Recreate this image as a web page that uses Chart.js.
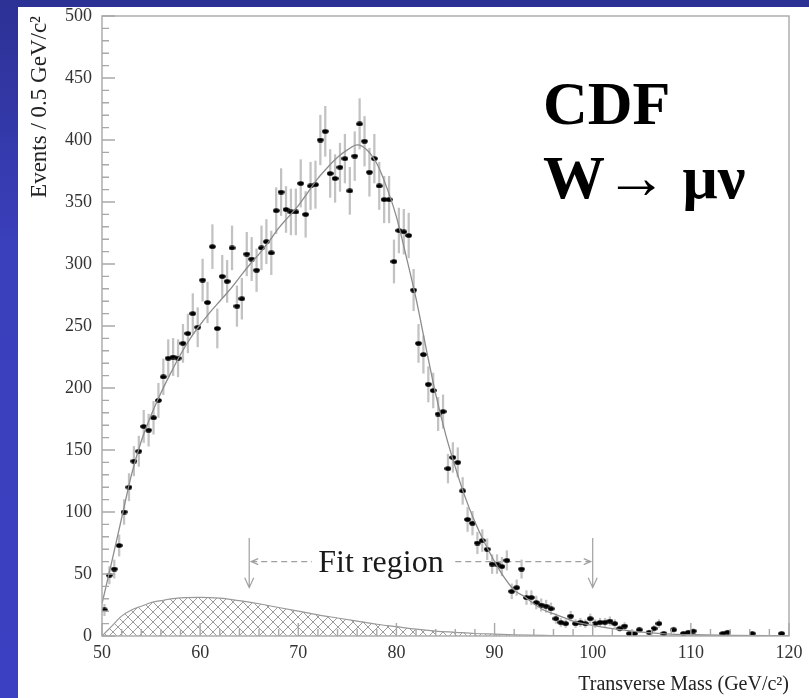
<!DOCTYPE html>
<html>
<head>
<meta charset="utf-8">
<script src="https://cdn.jsdelivr.net/npm/chart.js@4.4.1/dist/chart.umd.min.js"></script>
<style>
  html, body { margin: 0; padding: 0; }
  body {
    width: 809px; height: 698px; overflow: hidden; position: relative;
    background: linear-gradient(180deg, #2c3195 0%, #3a3fbb 35%, #3b40c2 100%);
  }
  #panel { position: absolute; left: 18px; top: 7px; width: 791px; height: 691px; background: #fff; }
</style>
</head>
<body>
<div id="panel"><canvas id="mt-graph"></canvas></div>
<script>
// Histogram: 0.5 GeV bins from 50 to 120 GeV (null = empty bin)
const binStart = 50;
const binWidth = 0.5;
const counts = [
  21, 49, 54, 73, 100, 120, 141, 149, 169, 166,
  176, 190, 209, 224, 225, 224, 236, 244, 260, 249,
  287, 269, 314, 248, 290, 286, 313, 266, 272, 308,
  304, 295, 313, 318, 309, 343, 358, 344, 342, 342,
  365, 340, 363, 364, 400, 407, 373, 369, 378, 385,
  359, 387, 413, 399, 374, 385, 363, 352, 352, 302,
  327, 326, 323, 279, 236, 227, 203, 198, 179, 181,
  135, 144, 140, 117, 94, 91, 75, 77, 70, 58,
  58, 56, 61, 36, 39, 54, 31, 31, 27, 25,
  24, 22, 14, 11, 10, 16, 10, 11, 10, 14,
  10, 11, 11, 12, 10, 6, 8, 2, 2, 5,
  null, 3, 6, 10, 2, null, 5, null, 2, 3,
  4, null, null, null, null, null, 2, 3, null, null,
  null, null, 2, null, null, null, null, null, 2, null
];

// Fit curve
const fitMass = [50, 50.5, 51, 52, 53, 54, 55, 56, 57, 58, 59, 60, 61, 62, 63, 64, 65, 66, 67, 68,
  69, 70, 71, 72, 73, 74, 75, 76, 77, 78, 79, 80, 81, 82, 83, 84, 85, 86, 87, 88,
  89, 90, 91, 92, 93, 94, 95, 96, 97, 98, 99, 100, 102, 104, 106, 108, 110, 114, 120];
const fitEvents = [26, 43, 60, 95, 130, 157, 178, 196, 212, 227, 240, 251, 261, 270, 279, 289, 299, 308, 318, 329,
  338, 347, 358, 369, 378, 386, 392, 396, 392, 381, 362, 338, 306, 272, 233, 195, 163, 136, 112, 92,
  75, 60, 47, 37, 32, 26, 21, 18, 15, 12, 10, 8.5, 6, 4, 2.5, 1.5, 1, 0.5, 0.3];

// Background shape (hatched)
const bkgMass = [50, 51, 52, 53, 54, 55, 56, 57, 58, 60, 62, 64, 66, 68, 70, 72, 74, 76, 78, 80,
  82, 84, 86, 88, 90, 92, 95, 100, 120];
const bkgEvents = [0, 8, 16, 21, 24, 27, 28.5, 30, 30.8, 31.2, 30.5, 28.5, 26, 23, 20, 17, 14.5, 12, 9.5, 7.5,
  5.5, 4, 3, 2, 1.5, 1, 0.5, 0, 0];

const fitRange = [65, 100];
const xTicks = { min: 50, max: 120, step: 10, minor: 2 };
const yTicks = { min: 0, max: 500, step: 50, minor: 10 };

const serif = '"Liberation Serif", "Times New Roman", serif';

const points = [];
const errors = [];
counts.forEach((n, i) => {
  if (n === null) return;
  const m = binStart + binWidth * (i + 0.5);
  const e = Math.sqrt(n); // Poisson error
  points.push({ x: m, y: n });
  errors.push({ x: m, y: [n - e, n + e] });
});

// crosshatch for the background
const hatch = document.createElement('canvas');
hatch.width = 10; hatch.height = 10;
const hctx = hatch.getContext('2d');
hctx.strokeStyle = '#9c9c9c';
hctx.lineWidth = 1;
hctx.beginPath();
hctx.moveTo(0, 0); hctx.lineTo(10, 10);
hctx.moveTo(10, 0); hctx.lineTo(0, 10);
hctx.stroke();

// small flat dot for the data points
const dot = document.createElement('canvas');
dot.width = 7; dot.height = 5;
const dctx = dot.getContext('2d');
dctx.fillStyle = '#000';
dctx.beginPath();
dctx.ellipse(3.5, 2.5, 3.3, 2.3, 0, 0, Math.PI * 2);
dctx.fill();

const ctx = document.getElementById('mt-graph').getContext('2d');

const decorations = {
  id: 'decorations',
  beforeDatasetsDraw(chart) {
    const { ctx, scales: { x, y } } = chart;
    const x1 = x.getPixelForValue(fitRange[0]);
    const x2 = x.getPixelForValue(fitRange[1]);
    const yTop = y.getPixelForValue(79);
    const yBot = y.getPixelForValue(39);
    const yLine = y.getPixelForValue(60);
    ctx.save();
    ctx.strokeStyle = '#a0a0a0';
    ctx.lineWidth = 1.2;
    // down arrows
    [x1, x2].forEach(px => {
      ctx.beginPath();
      ctx.moveTo(px, yTop); ctx.lineTo(px, yBot);
      ctx.moveTo(px - 4.5, yBot - 10); ctx.lineTo(px, yBot); ctx.lineTo(px + 4.5, yBot - 10);
      ctx.stroke();
    });
    // dashed line with open heads, broken around the label
    const gapL = x.getPixelForValue(71.4);
    const gapR = x.getPixelForValue(86);
    ctx.setLineDash([6, 4]);
    ctx.beginPath();
    ctx.moveTo(x1 + 2, yLine); ctx.lineTo(gapL, yLine);
    ctx.moveTo(gapR, yLine); ctx.lineTo(x2 - 2, yLine);
    ctx.stroke();
    ctx.setLineDash([]);
    ctx.beginPath();
    ctx.moveTo(x1 + 9, yLine - 3); ctx.lineTo(x1 + 2, yLine); ctx.lineTo(x1 + 9, yLine + 3);
    ctx.moveTo(x2 - 9, yLine - 3); ctx.lineTo(x2 - 2, yLine); ctx.lineTo(x2 - 9, yLine + 3);
    ctx.stroke();
    ctx.fillStyle = '#1a1a1a';
    ctx.font = '32px ' + serif;
    ctx.textAlign = 'left';
    ctx.textBaseline = 'alphabetic';
    ctx.fillText('Fit region', x.getPixelForValue(72.04), y.getPixelForValue(51.6));
    ctx.restore();
  },
  afterDatasetsDraw(chart) {
    const { ctx, chartArea: a, scales: { x, y } } = chart;
    ctx.save();
    ctx.strokeStyle = '#a8a8a8';
    ctx.lineWidth = 1.4;
    ctx.strokeRect(a.left, a.top, a.right - a.left, a.bottom - a.top);
    ctx.beginPath();
    for (let v = xTicks.min; v <= xTicks.max; v += xTicks.minor) {
      const px = x.getPixelForValue(v);
      const len = v % xTicks.step === 0 ? 13 : 7;
      ctx.moveTo(px, a.bottom); ctx.lineTo(px, a.bottom - len);
    }
    for (let v = yTicks.min; v <= yTicks.max; v += yTicks.minor) {
      const py = y.getPixelForValue(v);
      const len = v % yTicks.step === 0 ? 13 : 7;
      ctx.moveTo(a.left, py); ctx.lineTo(a.left + len, py);
    }
    ctx.stroke();
    // experiment label
    ctx.fillStyle = '#000';
    ctx.font = 'bold 62px ' + serif;
    ctx.textAlign = 'left';
    ctx.textBaseline = 'alphabetic';
    ctx.fillText('CDF', 525, 117);
    ctx.fillText('W\u2192 \u03bc\u03bd', 525, 191);
    ctx.restore();
  }
};

const data = {
  datasets: [
    {
      type: 'line',
      label: 'Fit',
      data: fitMass.map((m, i) => ({ x: m, y: fitEvents[i] })),
      borderColor: '#8c8c8c',
      borderWidth: 1.3,
      pointRadius: 0,
      cubicInterpolationMode: 'monotone',
      fill: false,
      order: 0
    },
    {
      type: 'scatter',
      label: 'Data',
      data: points,
      pointStyle: dot,
      pointRadius: 3,
      order: 1
    },
    {
      type: 'bar',
      label: 'Errors',
      data: errors,
      backgroundColor: '#c2c2c2',
      borderWidth: 0,
      barThickness: 1.6,
      order: 2
    },
    {
      type: 'line',
      label: 'Background',
      data: bkgMass.map((m, i) => ({ x: m, y: bkgEvents[i] })),
      borderColor: '#999',
      borderWidth: 1.2,
      pointRadius: 0,
      cubicInterpolationMode: 'monotone',
      fill: 'origin',
      backgroundColor: ctx.createPattern(hatch, 'repeat'),
      order: 3
    }
  ]
};

const config = {
  type: 'scatter',
  data: data,
  plugins: [decorations],
  options: {
    responsive: true,
    maintainAspectRatio: false,
    animation: false,
    layout: { padding: { top: 9, right: 20, left: 0, bottom: 0 } },
    plugins: { legend: { display: false }, tooltip: { enabled: false } },
    scales: {
      x: {
        type: 'linear',
        min: xTicks.min,
        max: xTicks.max,
        offset: false,
        grid: { display: false, drawTicks: false },
        border: { display: false },
        ticks: {
          stepSize: xTicks.step, padding: 6, color: '#333', maxRotation: 0, autoSkip: false,
          font: { family: serif, size: 18 }
        },
        title: {
          display: true, text: 'Transverse Mass (GeV/c\u00b2)', align: 'end', color: '#222',
          font: { family: serif, size: 20 }, padding: { top: 0, bottom: 1 }
        },
        afterFit(s) { s.height = 62; s.paddingLeft = 0; s.paddingRight = 0; }
      },
      y: {
        type: 'linear',
        min: yTicks.min,
        max: yTicks.max,
        grid: { display: false, drawTicks: false },
        border: { display: false },
        ticks: {
          stepSize: yTicks.step, padding: 10, color: '#333',
          font: { family: serif, size: 18 }
        },
        title: {
          display: true, text: 'Events / 0.5 GeV/c\u00b2', align: 'end', color: '#222',
          font: { family: serif, size: 23 }, padding: { top: 8, bottom: 0 }
        },
        afterFit(s) { s.width = 84; s.paddingTop = 0; s.paddingBottom = 0; }
      }
    }
  }
};

const mtChart = new Chart(ctx, config);
</script>
</body>
</html>
